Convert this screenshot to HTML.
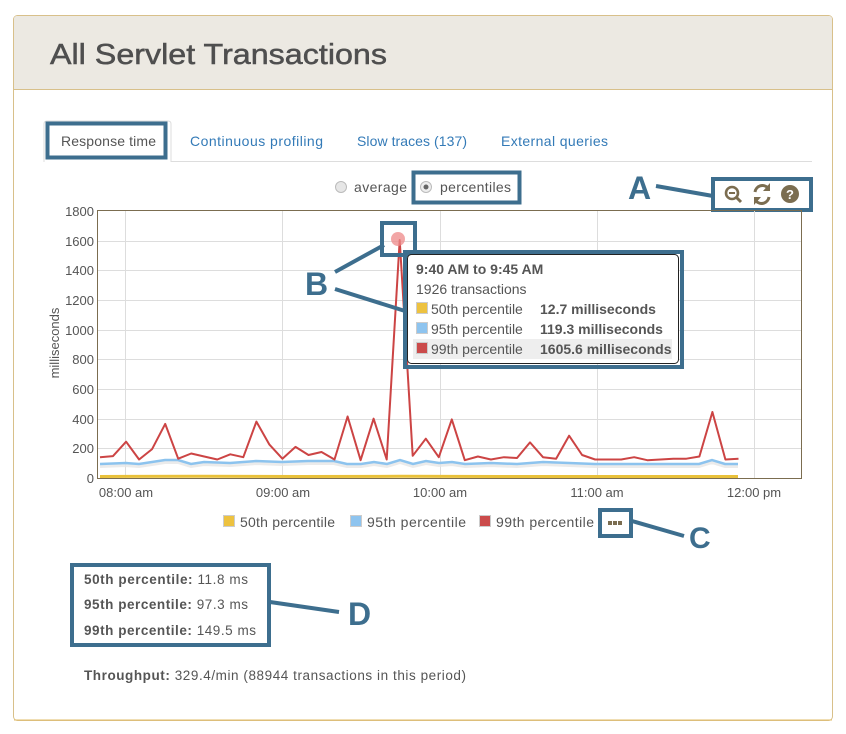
<!DOCTYPE html>
<html><head><meta charset="utf-8"><style>
html,body{margin:0;padding:0;background:#fff;}
svg{display:block;font-family:"Liberation Sans",sans-serif;}
</style></head><body>
<svg width="846" height="734" viewBox="0 0 846 734" xmlns="http://www.w3.org/2000/svg">
<!-- panel -->
<rect x="13.5" y="15.5" width="819" height="705" rx="4" fill="#fff" stroke="#d8c08a"/>
<path d="M14 89 L14 19 Q14 16 17 16 L829 16 Q832 16 832 19 L832 89 Z" fill="#ece9e2"/>
<line x1="14" y1="89.5" x2="832" y2="89.5" stroke="#d8c08a"/>
<line x1="14" y1="720" x2="832" y2="720" stroke="#e2bd6a"/>
<text x="50" y="64" font-size="29" fill="#4f4f4f" stroke="#4f4f4f" stroke-width="0.5" textLength="337" lengthAdjust="spacingAndGlyphs">All Servlet Transactions</text>

<!-- tabs -->
<line x1="44" y1="161.5" x2="812" y2="161.5" stroke="#ddd"/>
<path d="M44 162 L44 124 Q44 121 47 121 L168 121 Q171 121 171 124 L171 162" fill="#fff" stroke="#ddd"/>
<rect x="47.5" y="123.5" width="118" height="34" fill="none" stroke="#3d6e8e" stroke-width="4"/>
<g font-size="14" fill="#337ab7">
<text x="61" y="146" fill="#555" textLength="95">Response time</text>
<text x="190" y="146" textLength="133">Continuous profiling</text>
<text x="357" y="146" textLength="110">Slow traces (137)</text>
<text x="501" y="146" textLength="107">External queries</text>
</g>

<!-- radios -->
<circle cx="341" cy="187" r="5.5" fill="#e6e6e6" stroke="#bbb"/>
<text x="354" y="192" font-size="14" fill="#555" textLength="53">average</text>
<circle cx="426" cy="187" r="5.5" fill="#eee" stroke="#bbb"/>
<circle cx="426" cy="187" r="2.5" fill="#666"/>
<text x="440" y="192" font-size="14" fill="#555" textLength="71">percentiles</text>
<rect x="413.5" y="172.5" width="106" height="30" fill="none" stroke="#3d6e8e" stroke-width="4"/>

<!-- icons -->
<g fill="#7b6d50" stroke="#7b6d50">
<circle cx="732" cy="193" r="6" fill="none" stroke-width="2.6"/>
<line x1="736.5" y1="197.5" x2="741" y2="202" stroke-width="3"/>
<line x1="729" y1="193" x2="735" y2="193" stroke-width="2"/>
<path d="M755 192 A7.5 7.5 0 0 1 768 188" fill="none" stroke-width="3"/>
<path d="M769 197 A7.5 7.5 0 0 1 756 201" fill="none" stroke-width="3"/>
<path d="M770 183 L770 191 L763 191 Z" stroke="none"/>
<path d="M754 205 L754 197 L761 197 Z" stroke="none"/>
<circle cx="790" cy="194" r="9" stroke="none"/>
</g>
<text x="790" y="199" font-size="13" font-weight="bold" fill="#fff" text-anchor="middle">?</text>
<rect x="713" y="179" width="98" height="31" fill="none" stroke="#3d6e8e" stroke-width="4"/>
<text x="628" y="199" font-size="32" font-weight="bold" fill="#3d6e8e">A</text>
<line x1="656" y1="186" x2="713" y2="196" stroke="#3d6e8e" stroke-width="4"/>

<!-- grid -->
<g stroke="#ddd" stroke-width="1">
<line x1="97" y1="241.5" x2="802" y2="241.5"/><line x1="97" y1="270.5" x2="802" y2="270.5"/>
<line x1="97" y1="300.5" x2="802" y2="300.5"/><line x1="97" y1="330.5" x2="802" y2="330.5"/>
<line x1="97" y1="359.5" x2="802" y2="359.5"/><line x1="97" y1="389.5" x2="802" y2="389.5"/>
<line x1="97" y1="419.5" x2="802" y2="419.5"/><line x1="97" y1="448.5" x2="802" y2="448.5"/>
<line x1="125.5" y1="211" x2="125.5" y2="478"/><line x1="282.5" y1="211" x2="282.5" y2="478"/>
<line x1="440.5" y1="211" x2="440.5" y2="478"/><line x1="597.5" y1="211" x2="597.5" y2="478"/>
<line x1="754.5" y1="211" x2="754.5" y2="478"/>
</g>
<rect x="97.5" y="210.5" width="704" height="268" fill="none" stroke="#7b6d50"/>
<g font-size="13" fill="#555" text-anchor="end">
<text x="94" y="216">1800</text><text x="94" y="246">1600</text><text x="94" y="275">1400</text>
<text x="94" y="305">1200</text><text x="94" y="335">1000</text><text x="94" y="364">800</text>
<text x="94" y="394">600</text><text x="94" y="424">400</text><text x="94" y="453">200</text>
<text x="94" y="483">0</text>
</g>
<text transform="translate(59,343) rotate(-90)" font-size="13" fill="#555" text-anchor="middle">milliseconds</text>
<g font-size="13" fill="#555" text-anchor="middle">
<text x="126" y="497">08:00 am</text><text x="283" y="497">09:00 am</text>
<text x="440" y="497">10:00 am</text><text x="597" y="497">11:00 am</text>
<text x="754" y="497">12:00 pm</text>
</g>

<!-- series -->
<polyline fill="none" stroke="#e9c13a" stroke-width="3" points="100,476.5 200,476.2 300,476.5 400,476.3 500,476.5 600,476.5 700,476.5 738,476.5"/>
<polyline fill="none" stroke="#e6e6e6" stroke-width="3" opacity="0.8" points="100,464 126,463 139,464 165,460 178,460 191,464 204,462 230,463 256,461 282,462 308,461 334,461 347,464 361,464 374,462 387,464 400,460 413,464 426,461 439,463 452,462 465,464 491,463 517,464 543,462 569,463 595,464 647,464 699,464 712,460 725,464 738,464" transform="translate(0,2.5)"/>
<polyline fill="none" stroke="#8cc3ee" stroke-width="2.5" points="100,464 126,463 139,464 165,460 178,460 191,464 204,462 230,463 256,461 282,462 308,461 334,461 347,464 361,464 374,462 387,464 400,460 413,464 426,461 439,463 452,462 465,464 491,463 517,464 543,462 569,463 595,464 647,464 699,464 712,460 725,464 738,464"/>
<polyline fill="none" stroke="#cc4444" stroke-width="2" stroke-linejoin="round" points="100,457.2 113,456.1 126.1,441.7 139.1,459.5 152.1,449.1 165.2,423.9 178.2,458.7 191.2,453.5 204.2,456.5 217.3,459.5 230.3,454.3 243.3,457.2 256.4,421.6 269.4,444.6 282.4,458.7 295.5,446.9 308.5,455 321.5,452 334.5,459.5 347.6,416.5 360.6,460.2 373.6,418.7 386.7,459.5 399.7,240 412.7,455.8 425.8,438.7 438.8,457.2 451.8,419.4 464.8,460.2 477.9,456.5 490.9,459.5 503.9,457.2 517,458 530,442.4 543,457.2 556.1,458.7 569.1,435.7 582.1,455 595.1,459.5 608.2,459.5 621.2,459.5 634.2,457.2 647.3,460.2 660.3,459.5 673.3,458.7 686.4,458.7 699.4,456.5 712.4,412 725.4,459.5 738.5,458.7"/>
<circle cx="398" cy="239" r="7" fill="#e88" opacity="0.75"/>

<!-- B callouts -->
<rect x="382" y="223" width="33" height="32" fill="none" stroke="#3d6e8e" stroke-width="4"/>
<text x="305" y="295" font-size="32" font-weight="bold" fill="#3d6e8e">B</text>
<line x1="335" y1="272" x2="384" y2="245" stroke="#3d6e8e" stroke-width="4"/>
<line x1="335" y1="289" x2="405" y2="311" stroke="#3d6e8e" stroke-width="4"/>

<!-- tooltip -->
<rect x="407.5" y="254.5" width="271" height="109" rx="4" fill="#fff" stroke="#222"/>
<rect x="413" y="339" width="259" height="20" fill="#eee"/>
<g font-size="14" fill="#555">
<text x="416" y="274" font-weight="bold">9:40 AM to 9:45 AM</text>
<text x="416" y="294">1926 transactions</text>
<rect x="416.5" y="302.5" width="11" height="11" fill="#edc240" stroke="#ccc"/>
<text x="431" y="314">50th percentile</text><text x="540" y="314" font-weight="bold">12.7 milliseconds</text>
<rect x="416.5" y="322.5" width="11" height="11" fill="#8ec4ef" stroke="#ccc"/>
<text x="431" y="334">95th percentile</text><text x="540" y="334" font-weight="bold">119.3 milliseconds</text>
<rect x="416.5" y="342.5" width="11" height="11" fill="#cb4b4b" stroke="#ccc"/>
<text x="431" y="354">99th percentile</text><text x="540" y="354" font-weight="bold">1605.6 milliseconds</text>
</g>
<rect x="405" y="252" width="277" height="115" fill="none" stroke="#3d6e8e" stroke-width="4"/>

<!-- legend -->
<g font-size="14" fill="#555">
<rect x="223.5" y="515.5" width="11" height="11" fill="#edc240" stroke="#ccc"/>
<text x="240" y="527" textLength="95">50th percentile</text>
<rect x="350.5" y="515.5" width="11" height="11" fill="#8ec4ef" stroke="#ccc"/>
<text x="367" y="527" textLength="99">95th percentile</text>
<rect x="479.5" y="515.5" width="11" height="11" fill="#cb4b4b" stroke="#ccc"/>
<text x="496" y="527" textLength="98">99th percentile</text>
</g>
<rect x="608" y="521" width="4" height="4" fill="#7b6d50"/><rect x="613" y="521" width="4" height="4" fill="#7b6d50"/><rect x="618" y="521" width="4" height="4" fill="#7b6d50"/>
<rect x="600" y="510" width="31" height="26" fill="none" stroke="#3d6e8e" stroke-width="4"/>
<line x1="632" y1="521" x2="684" y2="536" stroke="#3d6e8e" stroke-width="4"/>
<text x="689" y="548" font-size="30" font-weight="bold" fill="#3d6e8e">C</text>

<!-- stats -->
<g font-size="13.5" fill="#555">
<text x="84" y="584" textLength="164"><tspan font-weight="bold">50th percentile:</tspan> 11.8 ms</text>
<text x="84" y="609" textLength="164"><tspan font-weight="bold">95th percentile:</tspan> 97.3 ms</text>
<text x="84" y="635" textLength="172"><tspan font-weight="bold">99th percentile:</tspan> 149.5 ms</text>
<text x="84" y="680" textLength="382"><tspan font-weight="bold">Throughput:</tspan> 329.4/min (88944 transactions in this period)</text>
</g>
<rect x="72" y="565" width="197" height="80" fill="none" stroke="#3d6e8e" stroke-width="4"/>
<line x1="270" y1="602" x2="339" y2="612" stroke="#3d6e8e" stroke-width="4"/>
<text x="348" y="625" font-size="32" font-weight="bold" fill="#3d6e8e">D</text>
</svg>
</body></html>
